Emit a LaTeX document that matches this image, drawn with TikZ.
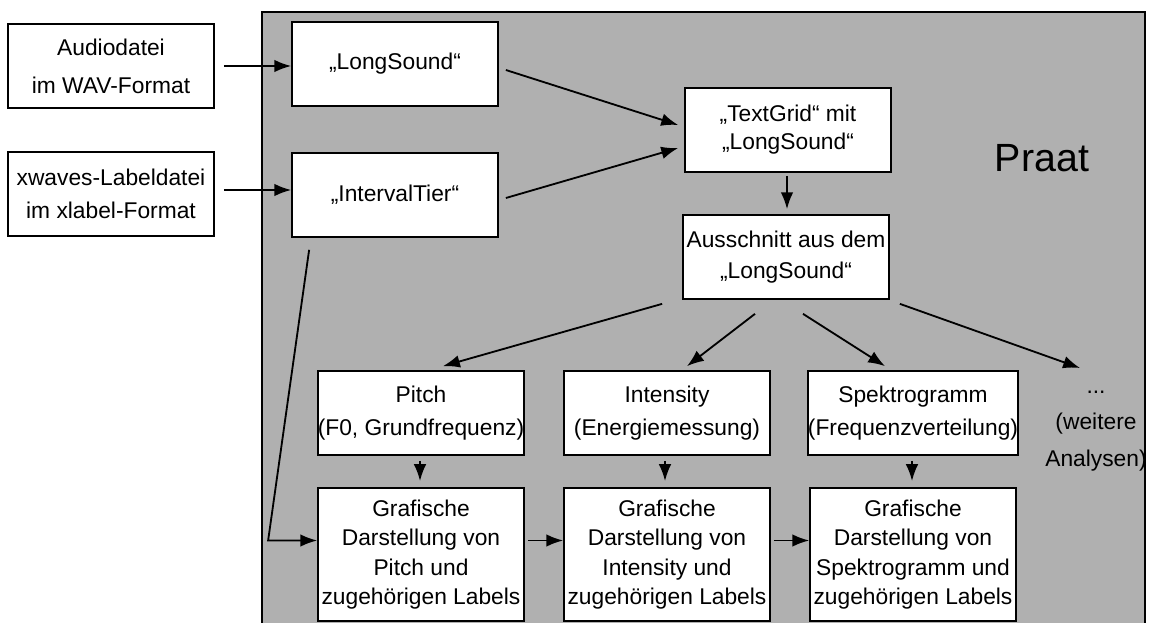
\documentclass[tikz,border=0pt]{standalone}
\usepackage{fontspec}
\setmainfont{Liberation Sans}
\usetikzlibrary{arrows.meta, calc}
\definecolor{praatgray}{gray}{0.69}

\begin{document}
\begin{tikzpicture}[x=0.025cm, y=-0.025cm,
    box/.style={draw, fill=white, line width=1.2pt, align=center, inner sep=0pt,
        minimum width=5.15cm, minimum height=2.1cm, font=\fontsize{16.2}{22}\selectfont},
    grafbox/.style={box, minimum height=3.33cm, font=\fontsize{16.2}{21}\selectfont},
    pfeil/.style={line width=1.3pt, -{Latex[length=12pt,width=9pt]}}]
\useasboundingbox (0,0) rectangle (1152,623);
\clip (0,0) rectangle (1152,623);
% Praat Area
\draw[fill=praatgray, line width=1.2pt] (262,12) rectangle (1145,700);
\node[font=\fontsize{28}{30}\selectfont] (praat) at (1042,158) {Praat};
% Input Files
\node[box, font=\fontsize{16.2}{27}\selectfont] (audio) at (111,66) {Audiodatei\\im WAV-Format};
\node[box, font=\fontsize{16.2}{23}\selectfont] (xwaves) at (111,194) {xwaves-Labeldatei\\im xlabel-Format};
% Praat Objects
     \node[box] (longsound) at (395,64) {„LongSound“};
     \node[box] (tier) at (395,195) {„IntervalTier“};
     \node[box, font=\fontsize{16.2}{20}\selectfont] (textgrid) at (788,130) {„TextGrid“ mit\\„LongSound“};
     \node[box] (ausschnitt) at (786,257) {Ausschnitt aus dem\\„LongSound“};
     % Analyses
     \node[box, font=\fontsize{16.2}{24}\selectfont] (pitch) at (421,413) {Pitch\\(F0, Grundfrequenz)};
     \node[box, font=\fontsize{16.2}{24}\selectfont] (intensity) at (667,413) {Intensity\\(Energiemessung)};
     \node[box, font=\fontsize{16.2}{24}\selectfont] (spektro) at (913,413) {Spektrogramm\\(Frequenzverteilung)};
     \node[align=center, font=\fontsize{16.2}{26}\selectfont] (weitere) at (1096,431) {...\\(weitere\\Analysen)};
     % Graphics
     \node[grafbox] (grafPitch) at (421,554.5) {Grafische\\Darstellung von\\Pitch und\\zugehörigen Labels};
     \node[grafbox] (grafInt) at (667,554.5) {Grafische\\Darstellung von\\Intensity und\\zugehörigen Labels};
     \node[grafbox] (grafSpek) at (913,554.5) {Grafische\\Darstellung von\\Spektrogramm und\\zugehörigen Labels};
     %
     % Import Edges:
     \draw[ pfeil] ($(audio.east)+(9,0)$)  -- (audio.east -| longsound.west) ;
     \draw[ pfeil] ($(xwaves.east)+(9,-4)$)  -- ($(xwaves.east -| tier.west)+(0,-4)$) ;
     \draw[ pfeil] ($(longsound.east)+(7,6)$)  -- ($(textgrid.west)+(-6,-5)$) ;
     \draw[ pfeil] ($(tier.east)+(7,3)$)  -- ($(textgrid.west)+(-6,18)$) ;
     \draw[ pfeil] ($(textgrid.south)+(-1,3)$)  -- ($(ausschnitt.north)+(1,-5)$) ;
     % Analysis Edges:
     \draw[ pfeil] ($(ausschnitt.south west)+(-20,4)$)  -- ($(pitch.north)+(22,-4)$) ;
     \draw[ pfeil] ($(ausschnitt.south)+(-31,14)$)  -- ($(intensity.north)+(20,-4)$) ;
     \draw[ pfeil] ($(ausschnitt.south)+(17,14)$)  -- ($(spektro.north)+(-28,-4)$) ;
     \draw[ pfeil] ($(ausschnitt.south east)+(10,4)$)  -- ($(weitere.center)+(-16,-63)$) ;
     %
     \draw[ pfeil] ($(pitch.south)+(-1,5)$)  -- ($(grafPitch.north)+(-1,-6)$) ;
     \draw[ pfeil] ($(intensity.south)+(-2,5)$)  -- ($(grafInt.north)+(-2,-6)$) ;
     \draw[ pfeil] ($(spektro.south)+(-1,5)$)  -- ($(grafSpek.north)+(-1,-6)$) ;
     % Label Edges:
     \draw[ pfeil] ($(tier.south west)+(18,12)$)  -- ($(grafPitch.west)+(-49,-14)$)  -- ($(grafPitch.west)+(0,-14)$) ;
     \draw[ pfeil] ($(grafPitch.east)+(3,-14)$)  -- ($(grafInt.west)+(0,-14)$) ;
     \draw[ pfeil] ($(grafInt.east)+(3,-14)$)  -- ($(grafSpek.west)+(0,-14)$) ;
\end{tikzpicture}
\end{document}
